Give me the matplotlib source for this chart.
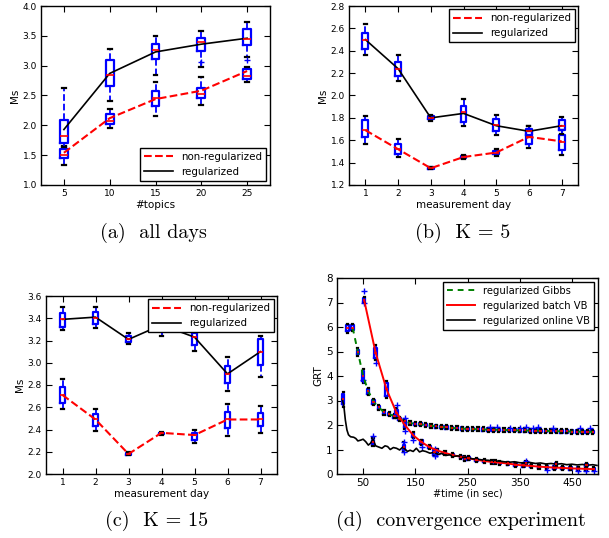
import matplotlib
matplotlib.use("Agg")
import matplotlib.pyplot as plt

# ---------------- data ----------------
# (a) all days
topics = [5, 10, 15, 20, 25]
a_nonreg_line = [1.54, 2.12, 2.44, 2.58, 2.91]
a_reg_line = [1.93, 2.87, 3.23, 3.36, 3.46]
# box stats: (whisker low, q1, median, q3, whisker high)
a_nonreg_box = [(1.34, 1.45, 1.50, 1.60, 1.65), (1.95, 2.02, 2.08, 2.19, 2.28),
                (2.16, 2.32, 2.45, 2.58, 2.73), (2.34, 2.45, 2.53, 2.63, 2.81),
                (2.73, 2.78, 2.83, 2.94, 2.98)]
a_reg_box = [(1.63, 1.71, 1.82, 2.09, 2.63), (2.40, 2.66, 2.85, 3.10, 3.28),
             (2.85, 3.11, 3.26, 3.37, 3.50), (2.98, 3.25, 3.39, 3.47, 3.58),
             (3.15, 3.35, 3.45, 3.61, 3.73)]
a_reg_fliers = [[], [], [], [3.06], [3.10]]

# (b) K = 5
days = [1, 2, 3, 4, 5, 6, 7]
b_nonreg_line = [1.69, 1.52, 1.35, 1.45, 1.49, 1.63, 1.59]
b_reg_line = [2.50, 2.24, 1.80, 1.84, 1.73, 1.68, 1.73]
b_nonreg_box = [(1.57, 1.63, 1.69, 1.78, 1.82), (1.45, 1.48, 1.52, 1.57, 1.61),
                (1.34, 1.345, 1.35, 1.36, 1.365), (1.43, 1.44, 1.45, 1.46, 1.47),
                (1.46, 1.48, 1.49, 1.50, 1.52), (1.53, 1.57, 1.63, 1.68, 1.73),
                (1.47, 1.51, 1.58, 1.65, 1.69)]
b_reg_box = [(2.36, 2.42, 2.50, 2.56, 2.64), (2.13, 2.17, 2.24, 2.30, 2.36),
             (1.775, 1.79, 1.80, 1.82, 1.83), (1.73, 1.76, 1.85, 1.91, 1.97),
             (1.65, 1.68, 1.74, 1.79, 1.83), (1.63, 1.65, 1.68, 1.70, 1.73),
             (1.66, 1.69, 1.73, 1.78, 1.81)]

# (c) K = 15
c_nonreg_line = [2.71, 2.49, 2.18, 2.37, 2.35, 2.49, 2.49]
c_reg_line = [3.39, 3.41, 3.21, 3.34, 3.23, 2.90, 3.10]
c_nonreg_box = [(2.58, 2.64, 2.71, 2.78, 2.85), (2.39, 2.43, 2.49, 2.54, 2.58),
                (2.17, 2.175, 2.18, 2.19, 2.20), (2.355, 2.36, 2.365, 2.37, 2.375),
                (2.28, 2.31, 2.35, 2.37, 2.40), (2.34, 2.41, 2.49, 2.56, 2.63),
                (2.37, 2.43, 2.49, 2.55, 2.61)]
c_reg_box = [(3.29, 3.32, 3.39, 3.45, 3.50), (3.31, 3.35, 3.40, 3.46, 3.50),
             (3.17, 3.19, 3.21, 3.24, 3.27), (3.24, 3.29, 3.34, 3.40, 3.46),
             (3.11, 3.16, 3.23, 3.27, 3.32), (2.75, 2.82, 2.90, 2.97, 3.05),
             (2.87, 2.98, 3.10, 3.21, 3.24)]

# (d) convergence experiment
gibbs_t = [20, 30, 40, 50, 60, 70, 80, 90, 100, 110, 120, 130, 140, 150, 160, 170,
           180, 190, 200, 210, 220, 230, 240, 250, 260, 270, 280, 290, 300, 310, 320,
           330, 340, 350, 360, 370, 380, 390, 400, 410, 420, 430, 440, 450, 460, 470,
           480, 490]
gibbs_med = [5.95, 5.97, 4.98, 4.00, 3.38, 2.95, 2.72, 2.52, 2.45, 2.35, 2.25, 2.15,
             2.08, 2.05, 2.03, 2.00, 1.97, 1.94, 1.92, 1.90, 1.88, 1.87, 1.85, 1.84,
             1.83, 1.83, 1.82, 1.81, 1.81, 1.80, 1.80, 1.79, 1.79, 1.78, 1.78, 1.77,
             1.77, 1.76, 1.76, 1.75, 1.75, 1.74, 1.74, 1.73, 1.73, 1.72, 1.72, 1.72]
gibbs_box_half = [0.12, 0.10, 0.10, 0.20, 0.10, 0.08, 0.06, 0.06] + [0.05] * 40
gibbs_whis_half = [0.18, 0.15, 0.15, 0.30, 0.15, 0.12, 0.10, 0.10] + [0.08] * 40
gibbs_flier_t = [50, 130, 293, 306, 331, 350, 363, 375, 385, 414, 465, 484]
gibbs_flier_v = [3.85, 2.30, 1.90, 1.90, 1.89, 1.89, 1.90, 1.89, 1.90, 1.88, 1.86, 1.86]

batch_t = [52, 74, 95, 114, 130, 146, 162, 177, 192, 207, 222, 237, 252, 267, 282,
           297, 312, 327, 342, 357, 372, 387, 402, 417, 432, 447, 462, 477, 492]
batch_med = [7.10, 4.95, 3.45, 2.50, 2.00, 1.58, 1.30, 1.10, 0.96, 0.86, 0.77, 0.70,
             0.64, 0.58, 0.53, 0.49, 0.46, 0.43, 0.38, 0.35, 0.33, 0.30, 0.28, 0.26,
             0.25, 0.23, 0.22, 0.21, 0.20]
batch_box_half = [0.07, 0.20, 0.25, 0.10, 0.08, 0.08, 0.07] + [0.05] * 22
batch_whis_half = [0.12, 0.30, 0.35, 0.20, 0.15, 0.12, 0.10] + [0.08] * 22
batch_flier_t = [52, 52, 74, 114, 130, 146, 162, 192, 402, 462, 477, 492]
batch_flier_v = [7.45, 6.97, 4.55, 2.80, 1.74, 1.38, 1.12, 0.80, 0.15, 0.14, 0.14, 0.12]

online_line_t = [10, 13, 16, 19, 22, 26, 32, 36, 40, 45, 50, 55, 60, 64, 69, 74, 80,
                 86, 92, 97, 102, 108, 114, 120, 126, 130, 135, 140, 146, 152, 158,
                 164, 170, 178, 186, 194, 200, 208, 216, 224, 232, 240, 250, 260, 270,
                 280, 290, 300, 310, 320, 330, 340, 350, 360, 370, 380, 390, 400, 410,
                 420, 430, 440, 450, 460, 470, 480, 490, 498]
online_line_v = [3.05, 2.80, 2.20, 1.80, 1.60, 1.52, 1.50, 1.45, 1.35, 1.38, 1.42,
                 1.32, 1.18, 1.25, 1.42, 1.15, 1.10, 1.05, 1.15, 1.12, 1.00, 1.08,
                 1.05, 0.98, 1.10, 1.02, 0.92, 0.97, 0.92, 1.05, 0.90, 0.95, 0.92,
                 0.85, 0.88, 0.80, 0.84, 0.76, 0.78, 0.72, 0.74, 0.68, 0.66, 0.62,
                 0.60, 0.57, 0.56, 0.52, 0.53, 0.50, 0.48, 0.50, 0.46, 0.45, 0.47,
                 0.43, 0.45, 0.41, 0.43, 0.40, 0.42, 0.38, 0.40, 0.37, 0.39, 0.36,
                 0.38, 0.35]
online_t = [12, 69, 128, 187, 245, 303, 362, 420, 478]
online_med = [3.05, 1.30, 1.10, 0.88, 0.62, 0.50, 0.45, 0.40, 0.36]
online_box_half = [0.20, 0.10, 0.10, 0.10, 0.06, 0.05, 0.05, 0.05, 0.05]
online_whis_half = [0.30, 0.15, 0.20, 0.15, 0.10, 0.08, 0.08, 0.08, 0.08]
online_flier_t = [69, 128, 128, 187, 187, 362]
online_flier_v = [1.55, 1.32, 0.90, 1.02, 0.75, 0.52]

# ---------------- style ----------------
plt.rcParams.update({
    "font.family": "DejaVu Sans",
    "xtick.direction": "in", "ytick.direction": "in",
    "xtick.top": True, "ytick.right": True,
    "xtick.major.size": 4, "ytick.major.size": 4,
    "axes.linewidth": 1.0,
    "legend.fancybox": False, "legend.edgecolor": "black",
    "legend.framealpha": 1.0,
})

BOX = dict(color="blue", linewidth=1.6)
WHIS = dict(color="blue", linewidth=1.3, linestyle="--")
CAP = dict(color="black", linewidth=1.6)
MED = dict(color="red", linewidth=1.2)
FLI = dict(marker="+", markeredgecolor="blue", markersize=4, linestyle="none")


def stats_from_tuples(tuples, fliers=None):
    out = []
    for i, (lo, q1, med, q3, hi) in enumerate(tuples):
        out.append(dict(whislo=lo, q1=q1, med=med, q3=q3, whishi=hi,
                        fliers=(fliers[i] if fliers else [])))
    return out


def draw_boxes(ax, stats, pos, width):
    ax.bxp(stats, positions=pos, widths=width, boxprops=BOX, whiskerprops=WHIS,
           capprops=CAP, medianprops=MED, flierprops=FLI, manage_ticks=False)


fig = plt.figure(figsize=(6.09, 5.38), dpi=100, facecolor="white")

TICK = 6.5
LAB = 7.5
LEG = 7.4

# (a)
ax = fig.add_axes([41 / 609, 1 - 185 / 538, 229 / 609, 179 / 538])
draw_boxes(ax, stats_from_tuples(a_nonreg_box), topics, 0.85)
draw_boxes(ax, stats_from_tuples(a_reg_box, a_reg_fliers), topics, 0.85)
ax.plot(topics, a_nonreg_line, "r--", lw=1.5, label="non-regularized")
ax.plot(topics, a_reg_line, "k-", lw=1.2, label="regularized")
ax.set_xlim(2.5, 27.5)
ax.set_ylim(1.0, 4.0)
ax.set_xticks(topics)
ax.set_yticks([1.0, 1.5, 2.0, 2.5, 3.0, 3.5, 4.0])
ax.set_yticklabels(["1.0", "1.5", "2.0", "2.5", "3.0", "3.5", "4.0"])
ax.tick_params(labelsize=TICK, pad=3)
ax.set_xlabel("#topics", fontsize=LAB, labelpad=1)
ax.set_ylabel("Ms", fontsize=LAB, labelpad=2)
ax.legend(loc="lower right", fontsize=LEG, handlelength=2.8, borderaxespad=0.4)

# (b)
ax = fig.add_axes([349 / 609, 1 - 185 / 538, 229 / 609, 179 / 538])
draw_boxes(ax, stats_from_tuples(b_nonreg_box), days, 0.18)
draw_boxes(ax, stats_from_tuples(b_reg_box), days, 0.18)
ax.plot(days, b_nonreg_line, "r--", lw=1.5, label="non-regularized")
ax.plot(days, b_reg_line, "k-", lw=1.2, label="regularized")
ax.set_xlim(0.5, 7.5)
ax.set_ylim(1.2, 2.8)
ax.set_xticks(days)
yt = [1.2, 1.4, 1.6, 1.8, 2.0, 2.2, 2.4, 2.6, 2.8]
ax.set_yticks(yt)
ax.set_yticklabels(["%.1f" % v for v in yt])
ax.tick_params(labelsize=TICK, pad=3)
ax.set_xlabel("measurement day", fontsize=LAB, labelpad=1)
ax.set_ylabel("Ms", fontsize=LAB, labelpad=2)
ax.legend(loc="upper right", fontsize=LEG, handlelength=2.8, borderaxespad=0.3)

# (c)
ax = fig.add_axes([46 / 609, 1 - 474 / 538, 231 / 609, 178 / 538])
draw_boxes(ax, stats_from_tuples(c_nonreg_box), days, 0.18)
draw_boxes(ax, stats_from_tuples(c_reg_box), days, 0.18)
ax.plot(days, c_nonreg_line, "r--", lw=1.5, label="non-regularized")
ax.plot(days, c_reg_line, "k-", lw=1.2, label="regularized")
ax.set_xlim(0.5, 7.5)
ax.set_ylim(2.0, 3.6)
ax.set_xticks(days)
yt = [2.0, 2.2, 2.4, 2.6, 2.8, 3.0, 3.2, 3.4, 3.6]
ax.set_yticks(yt)
ax.set_yticklabels(["%.1f" % v for v in yt])
ax.tick_params(labelsize=TICK, pad=3)
ax.set_xlabel("measurement day", fontsize=LAB, labelpad=1)
ax.set_ylabel("Ms", fontsize=LAB, labelpad=2)
ax.legend(loc="upper right", fontsize=LEG, handlelength=2.8, borderaxespad=0.3)

# (d)
ax = fig.add_axes([337 / 609, 1 - 474 / 538, 261 / 609, 196 / 538])


def half_stats(meds, bh, wh):
    return [dict(whislo=m - w, q1=m - b, med=m, q3=m + b, whishi=m + w, fliers=[])
            for m, b, w in zip(meds, bh, wh)]


draw_boxes(ax, half_stats(gibbs_med, gibbs_box_half, gibbs_whis_half), gibbs_t, 4.5)
draw_boxes(ax, half_stats(batch_med, batch_box_half, batch_whis_half), batch_t, 4.5)
draw_boxes(ax, half_stats(online_med, online_box_half, online_whis_half), online_t, 4.5)
ax.plot(gibbs_flier_t, gibbs_flier_v, **FLI)
ax.plot(batch_flier_t, batch_flier_v, **FLI)
ax.plot(online_flier_t, online_flier_v, **FLI)
ax.plot(gibbs_t[1:], gibbs_med[1:], "g--", lw=1.4, dashes=(3, 2.5),
        label="regularized Gibbs")
ax.plot(batch_t, batch_med, "r-", lw=1.4, label="regularized batch VB")
ax.plot(online_line_t, online_line_v, "k-", lw=1.2, label="regularized online VB")
ax.set_xlim(0, 500)
ax.set_ylim(0, 8)
ax.set_xticks([50, 150, 250, 350, 450])
ax.set_yticks(range(0, 9))
ax.tick_params(labelsize=7.5, pad=3)
ax.set_xlabel("#time (in sec)", fontsize=7, labelpad=0)
ax.set_ylabel("GRT", fontsize=7.5, labelpad=2)
ax.legend(loc="upper right", fontsize=7.2, handlelength=2.8, borderaxespad=0.4)

# captions
CAPF = dict(fontsize=14.5, family="cmr10", ha="center", va="center")
fig.text(153 / 609, 1 - 233 / 538, "(a)  all days", **CAPF)
fig.text(463 / 609, 1 - 233 / 538, "(b)  K = 5", **CAPF)
fig.text(157 / 609, 1 - 521 / 538, "(c)  K = 15", **CAPF)
fig.text(461 / 609, 1 - 521 / 538, "(d)  convergence experiment", **CAPF)

fig.savefig("out.png", dpi=100, facecolor="white")
